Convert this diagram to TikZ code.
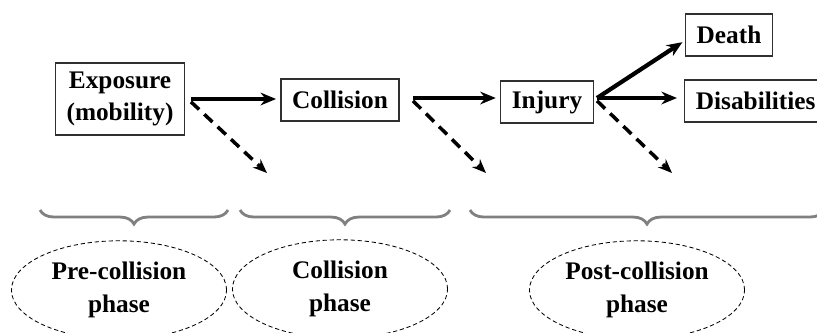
\documentclass[tikz,border=0pt]{standalone}
\usepackage{fontspec}
\setmainfont{Liberation Serif}
\usetikzlibrary{shapes.geometric,arrows.meta,positioning,calc,decorations.pathreplacing}
\definecolor{Ink}{HTML}{000000}
\definecolor{Frame}{HTML}{303030}
\definecolor{BraceGray}{HTML}{808080}

\tikzset{
  stagebox/.style={draw=Frame,line width=0.9pt,font=\fontsize{18}{22.5}\selectfont\bfseries,
    align=center,inner xsep=8pt,inner ysep=6.5pt,minimum height=30pt},
  phaseoval/.style={ellipse,draw=Ink,line width=0.6pt,dash pattern=on 3pt off 2pt,
    minimum width=153pt,minimum height=70pt,inner sep=0pt,align=center,
    font=\fontsize{18}{23.5}\selectfont\bfseries},
  mainarrow/.style={line width=3pt,-{Stealth[length=11pt,width=9pt]}},
  sidearrow/.style={line width=2.5pt,dash pattern=on 8pt off 5pt,-{Stealth[length=10pt,width=8pt]}},
  phasebrace/.style={BraceGray,line width=2pt,decorate,decoration={brace,mirror,amplitude=10pt}}
}

\begin{document}
\begin{tikzpicture}[x=0.025cm,y=-0.025cm]
  \useasboundingbox (0,0) rectangle (817,332);

  % stages
  \node[stagebox] (exposure) at (120,99) {Exposure\\(mobility)};
  \node[stagebox] (collision) at (340,100) {Collision};
  \node[stagebox] (injury) at (547,102) {Injury};
  \node[stagebox] (death) at (729,35) {Death};
  \node[stagebox,anchor=west] (disab) at (684,101) {Disabilities};

  % fork points and loose ends
  \coordinate (f1) at ([xshift=4pt]exposure.east);
  \coordinate (f2) at (413,98);
  \coordinate (f3) at (597,98);
  \coordinate (d1) at (267,173);
  \coordinate (d2) at (486,173);
  \coordinate (d3) at (672,173);

  \draw[mainarrow,shorten >=3pt] (f1) -- (f1 -| collision.west);
  \draw[mainarrow,shorten >=3pt] (f2) -- (f2 -| injury.west);
  \draw[mainarrow,shorten >=5pt] (f3) -- (f3 -| disab.west);
  \draw[mainarrow,shorten >=2pt] (f3) -- ([yshift=-4pt]death.west);
  \foreach \s/\e in {f1/d1,f2/d2,f3/d3}{
    \draw[sidearrow] ([yshift=-2pt]\s) -- (\e);
  }

  % phases
  \foreach \a/\b in {40/228,240/450,470/824}{
    \draw[phasebrace] (\a,210) -- (\b,210);
  }
  \node[phaseoval] (pre) at (119,290) {Pre-collision\\phase};
  \node[phaseoval] (during) at (340,289) {Collision\\phase};
  \node[phaseoval] (post) at (637,290) {Post-collision\\phase};
\end{tikzpicture}
\end{document}
